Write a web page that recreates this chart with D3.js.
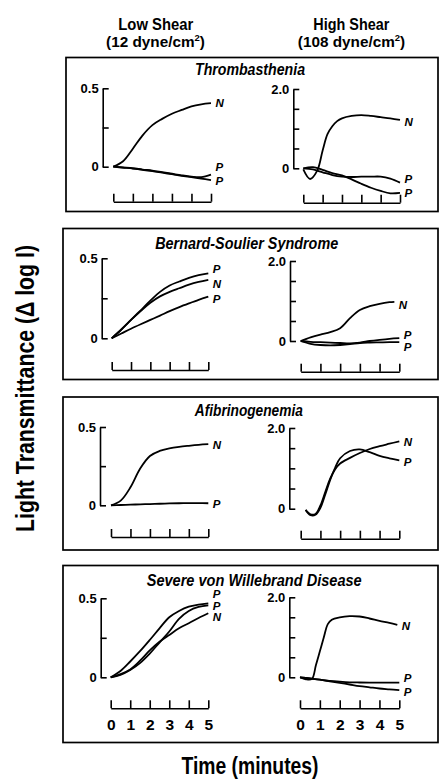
<!DOCTYPE html>
<html>
<head>
<meta charset="utf-8">
<script src="https://cdn.jsdelivr.net/npm/d3@7"></script>
<style>
  html, body { margin: 0; padding: 0; background: #fff; }
  svg { display: block; }
</style>
</head>
<body>
<svg id="chart" width="441" height="779"></svg>
<script>
// ---------------- DATA ----------------
const columnTitles = ["Low Shear", "High Shear"];
const columnUnits = [["(12 dyne/cm", "2", ")"], ["(108 dyne/cm", "2", ")"]];
const diseaseTitles = ["Thrombasthenia", "Bernard-Soulier Syndrome", "Afibrinogenemia", "Severe von Willebrand Disease"];
const yAxisTitle = "Light Transmittance (\u0394 log I)";
const xAxisTitle = "Time (minutes)";
const lowShearYTicks = [0, 0.25, 0.5];
const lowShearYLabels = ["0", "", "0.5"];
const highShearYTicks = [0, 0.5, 1, 1.5, 2];
const highShearYLabels = ["0", "", "", "", "2.0"];
const timeTicks = [0, 1, 2, 3, 4, 5];
const lowShearDomain = [0, 0.5];
const highShearDomain = [0, 2];

// [time (min), delta log I]
// Thrombasthenia
const thrLowN  = [[0,0],[0.5,0.035],[1,0.115],[1.5,0.2],[2,0.265],[2.5,0.305],[3,0.338],[3.5,0.362],[4,0.385],[4.5,0.398],[5,0.405]];
const thrLowP1 = [[0,0],[0.5,-0.005],[1,-0.01],[1.5,-0.018],[2,-0.025],[2.5,-0.035],[3,-0.045],[3.5,-0.055],[4,-0.063],[4.5,-0.066],[5,-0.05]];
const thrLowP2 = [[0,0],[0.5,-0.006],[1,-0.012],[1.5,-0.02],[2,-0.028],[2.5,-0.038],[3,-0.048],[3.5,-0.058],[4,-0.067],[4.5,-0.076],[5,-0.085]];
const thrHighN  = [[0,-0.03],[0.35,-0.27],[0.72,-0.06],[1,0.45],[1.25,0.86],[1.5,1.06],[1.75,1.19],[2,1.26],[2.5,1.32],[3,1.34],[3.5,1.32],[4,1.29],[4.5,1.26],[5,1.22]];
const thrHighP1 = [[0,0],[0.5,-0.03],[1,-0.1],[1.5,-0.17],[2,-0.21],[2.5,-0.22],[3,-0.21],[3.5,-0.21],[4,-0.21],[4.5,-0.26],[5,-0.36]];
const thrHighP2 = [[0,0],[0.5,0.03],[1,-0.04],[1.5,-0.12],[2,-0.18],[2.5,-0.28],[3,-0.39],[3.5,-0.49],[4,-0.57],[4.5,-0.63],[5,-0.62]];
// Bernard-Soulier Syndrome
const bssLowP1 = [[0,0],[0.5,0.055],[1,0.115],[1.5,0.175],[2,0.235],[2.5,0.29],[3,0.33],[3.5,0.355],[4,0.378],[4.5,0.395],[5,0.406]];
const bssLowN  = [[0,0],[0.5,0.055],[1,0.115],[1.5,0.17],[2,0.222],[2.5,0.262],[3,0.29],[3.5,0.313],[4,0.335],[4.5,0.352],[5,0.365]];
const bssLowP2 = [[0,0],[0.5,0.03],[1,0.06],[1.5,0.088],[2,0.115],[2.5,0.142],[3,0.17],[3.5,0.195],[4,0.218],[4.5,0.24],[5,0.26]];
const bssHighN  = [[0,0],[0.5,0.09],[1,0.16],[1.5,0.22],[2,0.32],[2.5,0.57],[3,0.775],[3.5,0.87],[4,0.93],[4.5,0.97],[4.75,0.98]];
const bssHighP1 = [[0,0],[0.5,-0.02],[1,-0.03],[1.5,-0.04],[2,-0.05],[2.5,-0.06],[3,-0.04],[3.5,0],[4,0.03],[4.5,0.055],[5,0.07]];
const bssHighP2 = [[0,0],[0.5,-0.07],[1,-0.1],[1.5,-0.11],[2,-0.1],[2.5,-0.08],[3,-0.05],[3.5,-0.04],[4,-0.035],[4.5,-0.03],[5,-0.03]];
// Afibrinogenemia
const afbLowN = [[0,0],[0.5,0.03],[1,0.115],[1.5,0.235],[2,0.315],[2.5,0.347],[3,0.363],[3.5,0.373],[4,0.38],[4.5,0.386],[5,0.39]];
const afbLowP = [[0,0],[0.5,0.002],[1,0.004],[1.5,0.006],[2,0.008],[2.5,0.01],[3,0.012],[3.5,0.013],[4,0.014],[4.5,0.014],[5,0.013]];
const afbHighN = [[0.25,-0.03],[0.5,-0.14],[0.75,-0.13],[1,0.08],[1.25,0.42],[1.5,0.75],[1.75,0.98],[2,1.12],[2.5,1.26],[3,1.38],[3.5,1.48],[4,1.55],[4.5,1.61],[5,1.67]];
const afbHighP = [[0.25,-0.03],[0.5,-0.16],[0.75,-0.15],[1,0.02],[1.25,0.36],[1.5,0.72],[1.75,1.02],[2,1.25],[2.5,1.43],[3,1.47],[3.5,1.4],[4,1.31],[4.5,1.25],[5,1.2]];
// Severe von Willebrand Disease
const vwdLowP1 = [[0,0],[0.5,0.04],[1,0.1],[1.5,0.165],[2,0.236],[2.5,0.31],[3,0.38],[3.5,0.42],[4,0.447],[4.5,0.46],[5,0.468]];
const vwdLowP2 = [[0,0],[0.5,0.015],[1,0.046],[1.5,0.09],[2,0.15],[2.5,0.22],[3,0.29],[3.5,0.37],[4,0.42],[4.5,0.445],[5,0.455]];
const vwdLowN  = [[0,0],[0.5,0.02],[1,0.05],[1.5,0.105],[2,0.17],[2.5,0.225],[3,0.268],[3.5,0.31],[4,0.342],[4.5,0.375],[5,0.405]];
const vwdHighN  = [[0,0],[0.3,-0.05],[0.6,-0.04],[0.8,0.3],[1,0.65],[1.2,1.0],[1.4,1.33],[1.6,1.44],[2,1.5],[2.5,1.53],[3,1.52],[3.5,1.47],[4,1.41],[4.5,1.36],[4.9,1.31]];
const vwdHighP1 = [[0,0],[0.5,-0.03],[1,-0.06],[1.5,-0.09],[2,-0.11],[2.5,-0.125],[3,-0.13],[3.5,-0.133],[4,-0.135],[4.5,-0.135],[5,-0.135]];
const vwdHighP2 = [[0,0],[0.5,-0.03],[1,-0.06],[1.5,-0.1],[2,-0.14],[2.5,-0.18],[3,-0.22],[3.5,-0.25],[4,-0.28],[4.5,-0.3],[5,-0.32]];

const panelSeries = [
  { low:  [{k:"N", d:thrLowN}, {k:"P", d:thrLowP1}, {k:"P", d:thrLowP2}],
    high: [{k:"N", d:thrHighN}, {k:"P", d:thrHighP1}, {k:"P", d:thrHighP2}] },
  { low:  [{k:"P", d:bssLowP1}, {k:"N", d:bssLowN}, {k:"P", d:bssLowP2}],
    high: [{k:"N", d:bssHighN}, {k:"P", d:bssHighP1}, {k:"P", d:bssHighP2}] },
  { low:  [{k:"N", d:afbLowN}, {k:"P", d:afbLowP}],
    high: [{k:"N", d:afbHighN}, {k:"P", d:afbHighP}] },
  { low:  [{k:"P", d:vwdLowP1}, {k:"P", d:vwdLowP2}, {k:"N", d:vwdLowN}],
    high: [{k:"N", d:vwdHighN}, {k:"P", d:vwdHighP1}, {k:"P", d:vwdHighP2}] }
];

// ---------------- LAYOUT / STYLE ----------------
const FONT = "'Liberation Sans', Arial, Helvetica, sans-serif";
const layout = [
  { box:[66,57.5,438,211.5], title:[250,75,110],
    low:{ax:102.7,y0:166.7,y1:88.3,xy:201.7,x0:113.3,x1:211},
    high:{ax:293.3,y0:168.3,y1:89,xy:202.7,x0:303.3,x1:400},
    nudgeLow:[0,-7.5,0.5], nudgeHigh:[2,-4,0] },
  { box:[63,228.5,438,379.5], title:[246.7,249,183],
    low:{ax:101.7,y0:338.3,y1:258.3,xy:370,x0:111.7,x1:208.3},
    high:{ax:290,y0:341,y1:261,xy:371.7,x0:300.7,x1:399.3},
    nudgeLow:[-4.5,4,2.5], nudgeHigh:[3,-3.5,5] },
  { box:[63,397,438,550], title:[248.8,415.5,108],
    low:{ax:100,y0:505.3,y1:427,xy:537,x0:111,x1:208.3},
    high:{ax:289.3,y0:508.7,y1:428,xy:538.7,x0:300.7,x1:399.3},
    nudgeLow:[1,1], nudgeHigh:[1,2] },
  { box:[63,565.5,438,742.5], title:[254.2,585.5,215],
    low:{ax:100.7,y0:677.3,y1:598.3,xy:708.3,x0:110.7,x1:208.3},
    high:{ax:289.3,y0:677.3,y1:597.3,xy:708.3,x0:300,x1:399.3},
    nudgeLow:[-9,0.5,3.5], nudgeHigh:[1,-4.5,1.5], showTimeLabels:true }
];
// column header placement: [titleStart, titleLen, unitsCenter]
const headerPos = [[118.3, 75, 155.5], [313.3, 76, 351.5]];

const svg = d3.select("#chart");
svg.append("rect").attr("width",441).attr("height",779).attr("fill","#fff");

// Column headers
columnTitles.forEach((h, i) => {
  const [tx, tl, uc] = headerPos[i];
  svg.append("text").attr("x", tx).attr("y", 29.5)
    .attr("font-family",FONT).attr("font-weight","bold")
    .attr("font-size",16.5).attr("textLength",tl).attr("lengthAdjust","spacingAndGlyphs").text(h);
  const u = columnUnits[i];
  const t = svg.append("text").attr("x", uc).attr("y", 46.5).attr("text-anchor","middle")
    .attr("font-family",FONT).attr("font-weight","bold").attr("font-size",15.3);
  t.append("tspan").text(u[0]);
  t.append("tspan").attr("dy",-5.5).attr("font-size",9.5).text(u[1]);
  t.append("tspan").attr("dy",5.5).text(u[2]);
});

// Y axis title
svg.append("text").attr("transform","translate(33.5,388.5) rotate(-90)")
  .attr("text-anchor","middle").attr("font-family",FONT).attr("font-weight","bold")
  .attr("font-size",26).attr("textLength",287).attr("lengthAdjust","spacingAndGlyphs")
  .text(yAxisTitle);

// X axis title
svg.append("text").attr("x",250).attr("y",773.5)
  .attr("text-anchor","middle").attr("font-family",FONT).attr("font-weight","bold")
  .attr("font-size",23.5).attr("textLength",137).attr("lengthAdjust","spacingAndGlyphs")
  .text(xAxisTitle);

const line = (x, y) => d3.line().x(d => x(d[0])).y(d => y(d[1])).curve(d3.curveCatmullRom.alpha(0.5));

function drawPlot(g, L, domain, yTicks, yLabels, series, nudges, showTime) {
  const x = d3.scaleLinear().domain([0,5]).range([L.x0, L.x1]);
  const y = d3.scaleLinear().domain(domain).range([L.y0, L.y1]);

  const ya = g.append("g").attr("transform",`translate(${L.ax},0)`)
    .call(d3.axisLeft(y).tickValues(yTicks).tickSizeInner(-6).tickSizeOuter(0).tickPadding(4)
      .tickFormat((d,i) => yLabels[i]));
  ya.attr("font-family",FONT).attr("font-size",13).attr("font-weight","bold");
  ya.selectAll("path,line").attr("stroke","#000").attr("stroke-width",1.6);
  ya.selectAll("text").attr("fill","#000");

  const xa = g.append("g").attr("transform",`translate(0,${L.xy})`)
    .call(d3.axisBottom(x).tickValues(timeTicks).tickSizeInner(-8).tickSizeOuter(0).tickPadding(11)
      .tickFormat(d => showTime ? String(d) : ""));
  xa.attr("font-family",FONT).attr("font-size",15.5).attr("font-weight","bold");
  xa.selectAll("path,line").attr("stroke","#000").attr("stroke-width",1.6);
  xa.selectAll("text").attr("fill","#000");

  const ln = line(x, y);
  series.forEach((s, i) => {
    g.append("path").attr("d", ln(s.d)).attr("fill","none")
      .attr("stroke","#000").attr("stroke-width",1.8).attr("stroke-linejoin","round");
    const last = s.d[s.d.length-1];
    g.append("text").attr("x", x(last[0]) + 4.5).attr("y", y(last[1]) + nudges[i])
      .attr("dy","0.36em").attr("font-family",FONT).attr("font-weight","bold")
      .attr("font-style","italic").attr("font-size",11.5).text(s.k);
  });
}

layout.forEach((P, pi) => {
  const g = svg.append("g");
  const [bx0, by0, bx1, by1] = P.box;
  g.append("rect").attr("x",bx0).attr("y",by0).attr("width",bx1-bx0).attr("height",by1-by0)
    .attr("fill","none").attr("stroke","#000").attr("stroke-width",1.7);
  g.append("text").attr("x",P.title[0]).attr("y",P.title[1]).attr("text-anchor","middle")
    .attr("font-family",FONT).attr("font-weight","bold").attr("font-style","italic")
    .attr("font-size",17).attr("textLength",P.title[2]).attr("lengthAdjust","spacingAndGlyphs")
    .text(diseaseTitles[pi]);
  drawPlot(g, P.low, lowShearDomain, lowShearYTicks, lowShearYLabels, panelSeries[pi].low, P.nudgeLow, !!P.showTimeLabels);
  drawPlot(g, P.high, highShearDomain, highShearYTicks, highShearYLabels, panelSeries[pi].high, P.nudgeHigh, !!P.showTimeLabels);
});
</script>
</body>
</html>
